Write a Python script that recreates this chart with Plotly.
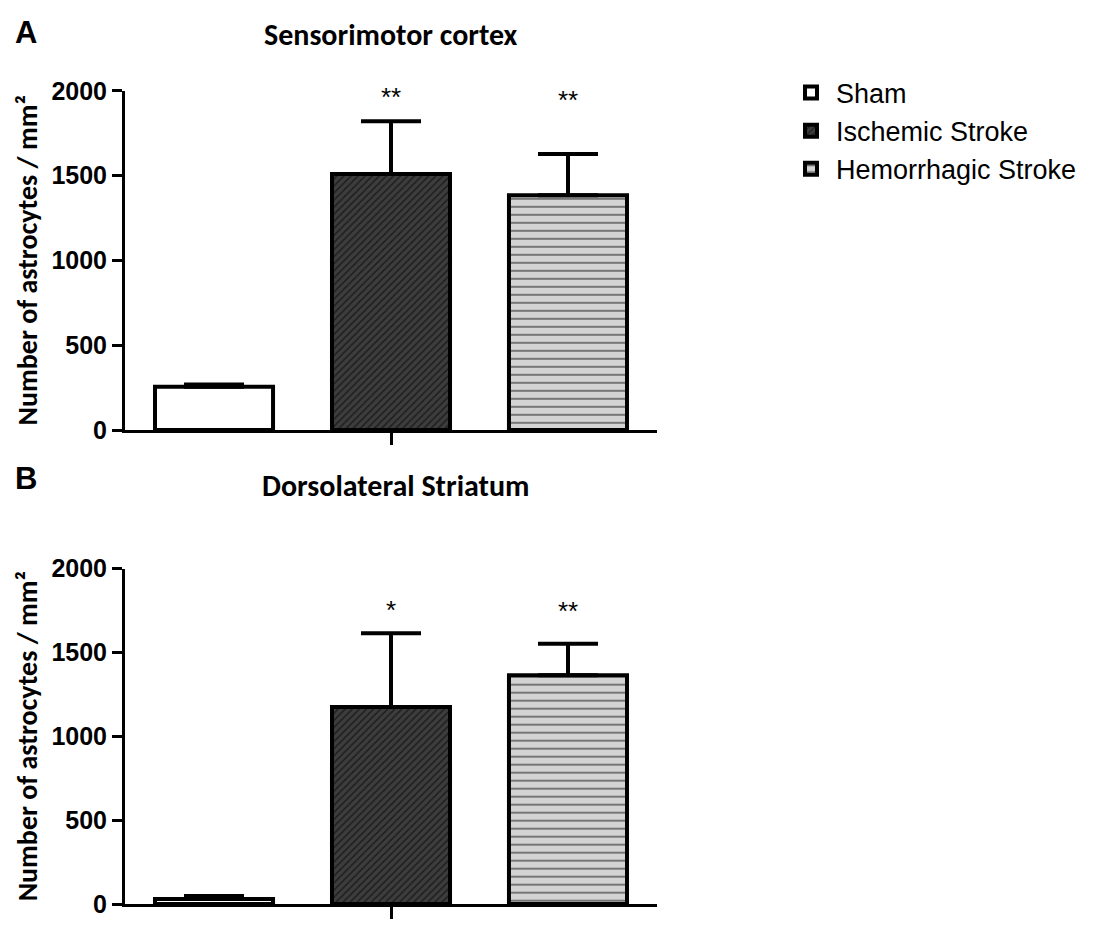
import plotly.graph_objects as go

categories = ["Sham", "Ischemic Stroke", "Hemorrhagic Stroke"]
cortex_mean = [255, 1510, 1385]
cortex_sem = [13, 310, 243]
cortex_sig = ["", "**", "**"]
striatum_mean = [30, 1175, 1365]
striatum_sem = [18, 440, 188]
striatum_sig = ["", "*", "**"]
sig_y_cortex = [None, 1965, 1945]
sig_y_striatum = [None, 1755, 1745]
y_ticks = [0, 500, 1000, 1500, 2000]
y_title = "Number of astrocytes / mm²"

# page is offset by the default 8px body margin
W, H, OFF = 1083, 912, 8
def fx(p):
    return (p - OFF) / W
def fy(p):
    return 1 - (p - OFF) / H

fills = ["white", "#3d3d3d", "#d3d3d3"]
patterns = [dict(shape=""),
            dict(shape="/", fgcolor="black", bgcolor="#3d3d3d", size=5, solidity=0.3),
            dict(shape="-", fgcolor="black", bgcolor="#d3d3d3", size=8, solidity=0.22)]

fig = go.Figure()
for panel, (means, sems) in enumerate([(cortex_mean, cortex_sem), (striatum_mean, striatum_sem)]):
    xa = "x" if panel == 0 else "x2"
    ya = "y" if panel == 0 else "y2"
    for i, cat in enumerate(categories):
        fig.add_trace(go.Bar(
            x=[cat], y=[means[i]], name=cat, legendgroup=cat, showlegend=(panel == 0),
            xaxis=xa, yaxis=ya, width=0.667,
            marker=dict(color=fills[i], pattern=patterns[i], line=dict(color="black", width=4)),
            error_y=dict(type="data", symmetric=False, array=[sems[i]], arrayminus=[0],
                         color="black", thickness=4, width=30),
        ))

tick_font = dict(family="Liberation Sans, Arial", size=25, color="black", weight="bold")
axis_common = dict(showline=True, linecolor="black", linewidth=3, ticks="outside", tickwidth=3,
                   ticklen=9, tickcolor="black", showgrid=False, zeroline=False)
xcommon = dict(axis_common, type="category", categoryorder="array", categoryarray=categories,
               range=[-0.503, 2.503], tickvals=["Ischemic Stroke"], ticktext=[""], ticklen=12)
ycommon = dict(axis_common, range=[0, 2000], tickvals=y_ticks, tickfont=tick_font, ticklen=10)

fig.update_layout(
    width=W, height=H, margin=dict(l=0, r=0, t=0, b=0),
    paper_bgcolor="white", plot_bgcolor="white", barmode="overlay",
    xaxis=dict(xcommon, domain=[fx(125), fx(657)], anchor="y"),
    yaxis=dict(ycommon, domain=[fy(429), fy(79)], anchor="x"),
    xaxis2=dict(xcommon, domain=[fx(125), fx(657)], anchor="y2"),
    yaxis2=dict(ycommon, domain=[fy(918), fy(572)], anchor="x2"),
    legend=dict(x=fx(786), y=fy(56), xanchor="left", yanchor="top",
                font=dict(family="Liberation Sans, Arial", size=27, color="black"),
                itemwidth=40, tracegroupgap=0, bgcolor="rgba(0,0,0,0)"),
    showlegend=True,
)

star_font = dict(family="Liberation Sans, Arial", size=26, color="black")
ann = []
for i, s in enumerate(cortex_sig):
    if s:
        ann.append(dict(x=categories[i], y=sig_y_cortex[i], xref="x", yref="y", text=s,
                        showarrow=False, font=star_font))
for i, s in enumerate(striatum_sig):
    if s:
        ann.append(dict(x=categories[i], y=sig_y_striatum[i], xref="x2", yref="y2", text=s,
                        showarrow=False, font=star_font))
title_font = dict(family="Carlito, Lato", size=30, color="black", weight="bold")
ytitle_font = dict(family="Carlito, Lato", size=28, color="black", weight="bold")
letter_font = dict(family="Liberation Sans, Arial", size=31, color="black", weight="bold")
ann += [
    dict(x=fx(391), y=fy(21), xref="paper", yref="paper", text="Sensorimotor cortex",
         showarrow=False, font=title_font, xanchor="center", yanchor="middle"),
    dict(x=fx(395), y=fy(486), xref="paper", yref="paper", text="Dorsolateral Striatum",
         showarrow=False, font=title_font, xanchor="center", yanchor="middle"),
    dict(x=fx(26), y=fy(19), xref="paper", yref="paper", text="A", showarrow=False,
         font=letter_font, xanchor="center", yanchor="middle"),
    dict(x=fx(26), y=fy(479), xref="paper", yref="paper", text="B", showarrow=False,
         font=letter_font, xanchor="center", yanchor="middle"),
    dict(x=fx(27), y=fy(254), xref="paper", yref="paper", text=y_title, textangle=-90,
         showarrow=False, font=ytitle_font, xanchor="center", yanchor="middle"),
    dict(x=fx(27), y=fy(745), xref="paper", yref="paper", text=y_title, textangle=-90,
         showarrow=False, font=ytitle_font, xanchor="center", yanchor="middle"),
]
fig.update_layout(annotations=ann)

fig.write_html("out.html")
